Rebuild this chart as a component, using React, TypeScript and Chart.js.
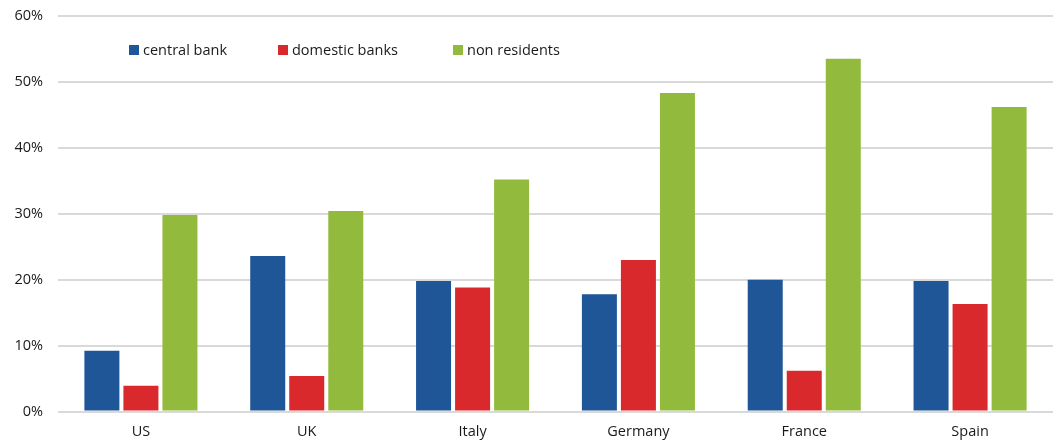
import React, { useEffect, useRef } from "react";
import { Chart, registerables } from "chart.js";

Chart.register(...registerables);

const categories = ["US", "UK", "Italy", "Germany", "France", "Spain"];
const seriesNames = ["central bank", "domestic banks", "non residents"];
const centralBank = [9.2, 23.6, 19.8, 17.8, 20.0, 19.8];
const domesticBanks = [3.9, 5.4, 18.8, 23.0, 6.2, 16.3];
const nonResidents = [29.8, 30.4, 35.2, 48.3, 53.5, 46.2];
const seriesColors = ["#1F5697", "#D9292C", "#92BB3E"];
const yTicks = [0, 10, 20, 30, 40, 50, 60];

const FONT = "'Open Sans', 'Noto Sans', sans-serif";
const TEXT = "#1a1a1a";

const legendPlugin = {
  id: "insideLegend",
  afterDraw(chart: any) {
    const opts = chart.options.plugins.insideLegend;
    const ctx = chart.ctx;
    ctx.save();
    ctx.font = `${opts.fontSize}px ${FONT}`;
    ctx.textBaseline = "middle";
    ctx.textAlign = "left";
    chart.data.datasets.forEach((ds: any, i: number) => {
      const x = opts.xs[i];
      const y = opts.y;
      ctx.fillStyle = ds.backgroundColor;
      ctx.fillRect(x, y - 5, 10, 10);
      ctx.fillStyle = TEXT;
      ctx.fillText(ds.label, x + 14, y + 0.5);
    });
    ctx.restore();
  },
};

export default function App() {
  const ref = useRef<HTMLCanvasElement | null>(null);

  useEffect(() => {
    if (!ref.current) return;
    const values = [centralBank, domesticBanks, nonResidents];
    const chart = new Chart(ref.current, {
      type: "bar",
      data: {
        labels: categories,
        datasets: seriesNames.map((name, i) => ({
          label: name,
          data: values[i],
          backgroundColor: seriesColors[i],
          borderWidth: 0,
          categoryPercentage: 0.706,
          barPercentage: 0.897,
        })),
      },
      plugins: [legendPlugin],
      options: {
        animation: false,
        responsive: true,
        maintainAspectRatio: false,
        layout: { padding: { top: 16, right: 0, left: 0, bottom: 0 } },
        plugins: {
          legend: { display: false },
          tooltip: { enabled: false },
          insideLegend: { xs: [129, 278, 453], y: 50, fontSize: 14.5 },
        } as any,
        scales: {
          x: {
            grid: { display: false, drawTicks: false },
            border: { display: false },
            ticks: {
              color: TEXT,
              font: { family: FONT, size: 14.5 },
              padding: 12,
              maxRotation: 0,
            },
            afterFit: (s: any) => {
              s.height = 29.5;
              s.paddingLeft = 0;
              s.paddingRight = 0;
            },
          },
          y: {
            min: 0,
            max: 60,
            afterBuildTicks: (s: any) => {
              s.ticks = yTicks.map((v) => ({ value: v }));
            },
            grid: { color: "#D9D9D9", lineWidth: 2, drawTicks: false },
            border: { display: false },
            ticks: {
              color: TEXT,
              font: { family: FONT, size: 14.5 },
              padding: 15,
              callback: (v: any) => `${v}%`,
            },
            afterFit: (s: any) => {
              s.width = 58;
              s.paddingTop = 0;
              s.paddingBottom = 0;
            },
          },
        },
      },
    });
    return () => chart.destroy();
  }, []);

  return (
    <div style={{ position: "fixed", left: 0, top: 0, width: 1053, height: 441, background: "#fff" }}>
      <canvas ref={ref} />
    </div>
  );
}
